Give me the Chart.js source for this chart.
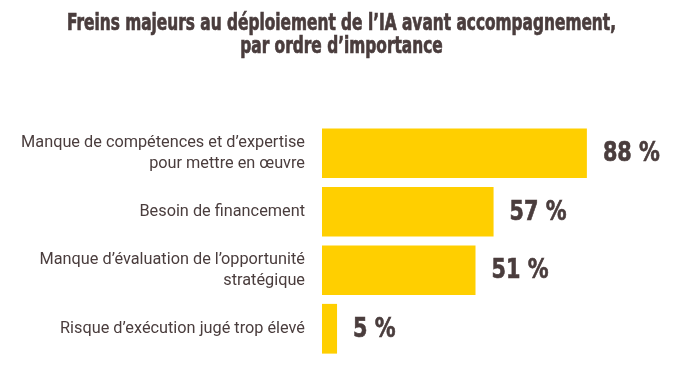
<!DOCTYPE html>
<html><head><meta charset="utf-8">
<script src="https://cdn.jsdelivr.net/npm/chart.js@4"></script>
<style>html,body{margin:0;padding:0;background:#fff}#wrap{width:678px;height:375px;position:relative}</style>
</head><body><div id="wrap"><canvas id="c" width="678" height="375"></canvas></div>
<script>
const titleLines = ["Freins majeurs au déploiement de l’IA avant accompagnement,", "par ordre d’importance"];
const categories = [
  ["Manque de compétences et d’expertise", "pour mettre en œuvre"],
  "Besoin de financement",
  ["Manque d’évaluation de l’opportunité", "stratégique"],
  "Risque d’exécution jugé trop élevé"
];
const values = [88, 57, 51, 5];
const valueLabels = ["88 %", "57 %", "51 %", "5 %"];

const TEXT = '#4a3d3d';
const YELLOW = '#ffcf00';
const COND = '"DejaVu Sans Condensed", "Liberation Sans Narrow", "DejaVu Sans", sans-serif';

// Title drawn as real canvas text, horizontally condensed to the reference width
const titlePlugin = {
  id: 'condTitle',
  afterDraw(chart) {
    const ctx = chart.ctx;
    ctx.save();
    ctx.fillStyle = TEXT;
    ctx.strokeStyle = TEXT;
    ctx.lineWidth = 0.7;
    ctx.font = 'bold 23px ' + COND;
    ctx.textAlign = 'center';
    ctx.textBaseline = 'alphabetic';
    const sx = 549 / ctx.measureText(titleLines[0]).width;
    const baselines = [30, 52.5];
    titleLines.forEach((line, i) => {
      ctx.save();
      ctx.translate(341.5, baselines[i]);
      ctx.scale(sx, 1);
      ctx.fillText(line, 0, 0);
      ctx.strokeText(line, 0, 0);
      ctx.restore();
    });
    ctx.restore();
  }
};

const valuePlugin = {
  id: 'valueLabels',
  afterDatasetsDraw(chart) {
    const ctx = chart.ctx;
    const meta = chart.getDatasetMeta(0);
    ctx.save();
    ctx.fillStyle = TEXT;
    ctx.strokeStyle = TEXT;
    ctx.lineWidth = 0.6;
    ctx.font = 'bold 26px ' + COND;
    ctx.textAlign = 'left';
    ctx.textBaseline = 'alphabetic';
    const sx = 57 / ctx.measureText(valueLabels[0]).width;
    meta.data.forEach((bar, i) => {
      ctx.save();
      ctx.translate(bar.x + 16, bar.y + 8);
      ctx.scale(sx, 1);
      ctx.fillText(valueLabels[i], 0, 0);
      ctx.strokeText(valueLabels[i], 0, 0);
      ctx.restore();
    });
    ctx.restore();
  }
};

new Chart(document.getElementById('c'), {
  type: 'bar',
  data: {
    labels: categories,
    datasets: [{ data: values, backgroundColor: YELLOW, borderWidth: 0, barPercentage: 0.85, categoryPercentage: 1.0 }]
  },
  options: {
    indexAxis: 'y',
    responsive: false,
    animation: false,
    layout: { padding: { left: 0, right: 55, top: 124, bottom: 17 } },
    plugins: {
      legend: { display: false },
      tooltip: { enabled: false },
      title: { display: false }
    },
    scales: {
      x: { display: false, min: 0, max: 100 },
      y: {
        afterFit(scale) { scale.width = 322; scale.paddingTop = 0; scale.paddingBottom = 0; },
        grid: { display: false, drawTicks: false },
        border: { display: false },
        ticks: {
          color: TEXT,
          padding: 17,
          font: { family: 'Roboto, sans-serif', size: 16.3, lineHeight: 1.3 }
        }
      }
    }
  },
  plugins: [valuePlugin, titlePlugin]
});
</script></body></html>
